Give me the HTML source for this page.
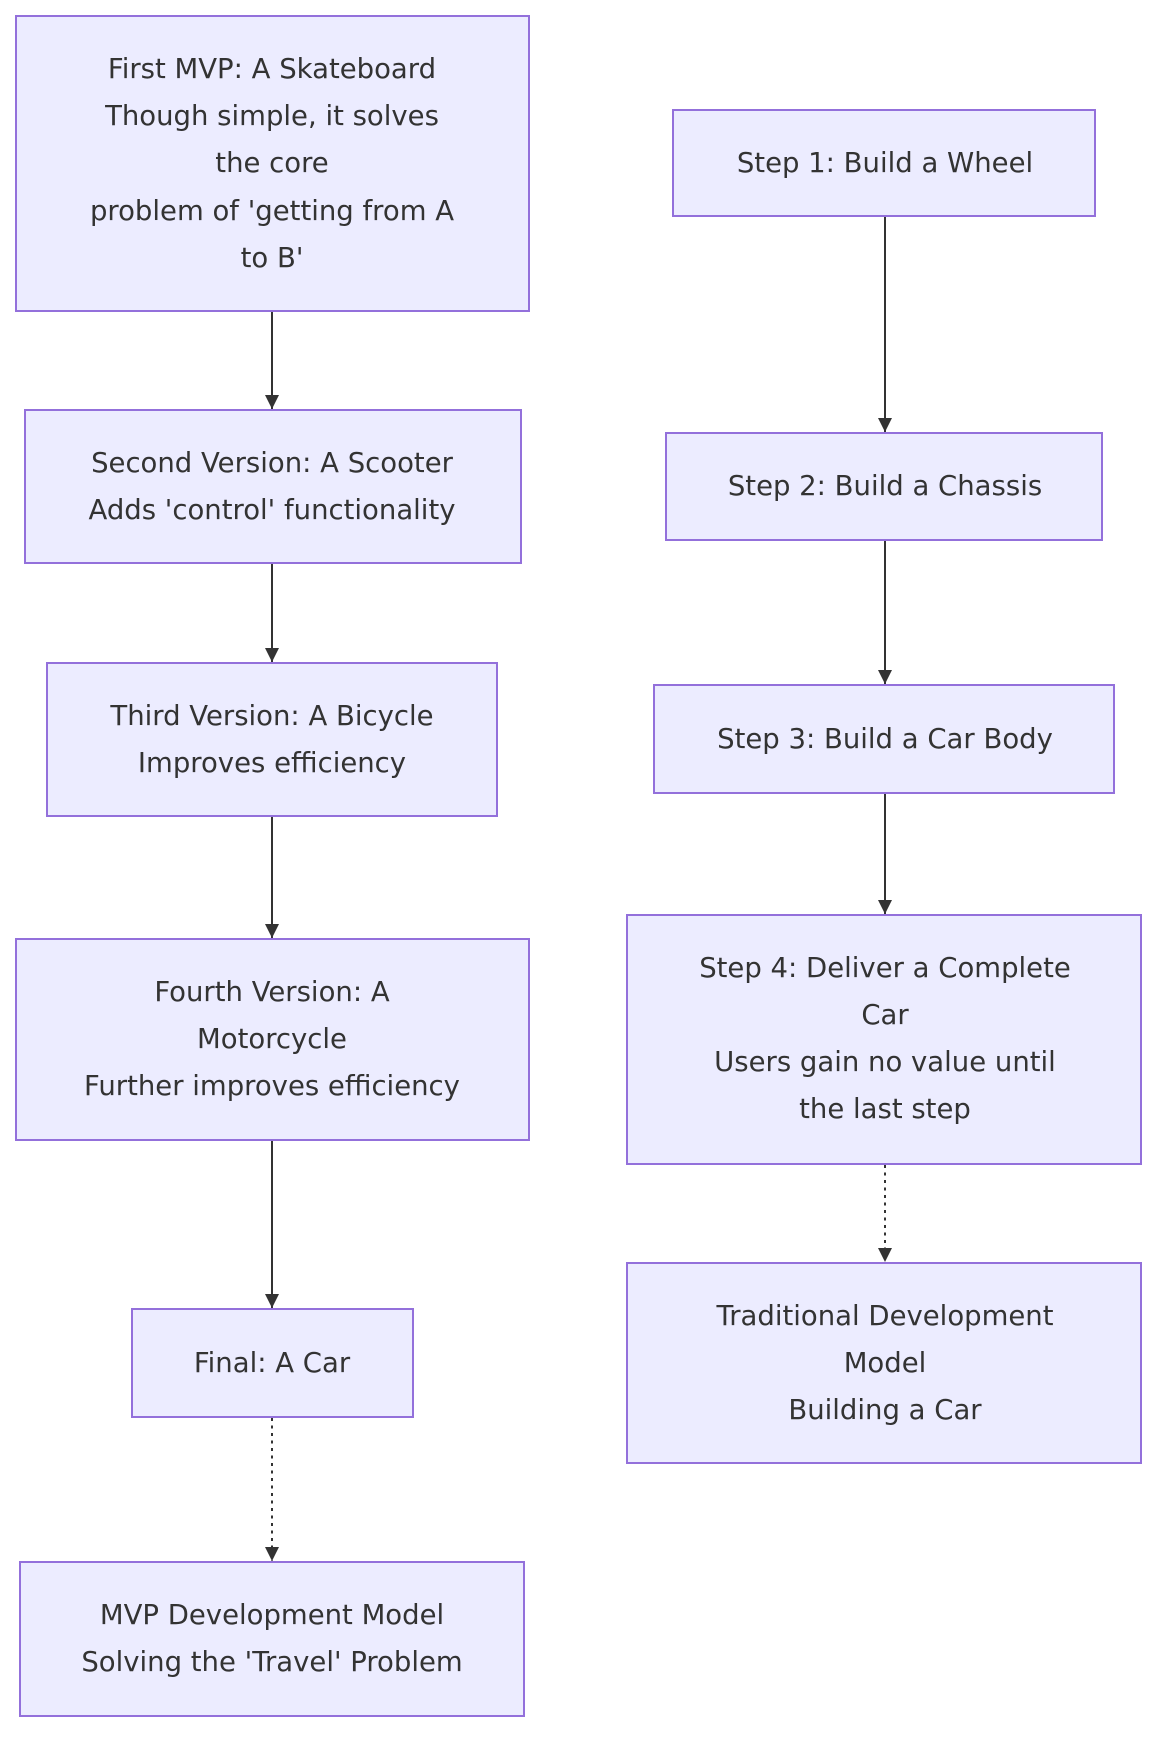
<!DOCTYPE html>
<html><head><meta charset="utf-8"><style>
html,body{margin:0;padding:0;background:#fff;}
svg{display:block;}
text{font-family:"DejaVu Sans",sans-serif;font-size:27.5px;fill:#333;text-anchor:middle;dominant-baseline:central;}
rect{fill:#ECECFF;stroke:#9370DB;stroke-width:2;}
line{stroke:#333;stroke-width:2;}
.d{stroke-dasharray:3,4.5;}
</style></head><body>
<svg width="1172" height="1756" viewBox="0 0 1172 1756">
<defs><marker id="a" viewBox="0 0 12 12" refX="12" refY="6" markerWidth="14" markerHeight="14" markerUnits="userSpaceOnUse" orient="auto"><path d="M0,0 L12,6 L0,12 z" fill="#333"/></marker></defs>
<rect x="16" y="16" width="513" height="295"/>
<text x="272" y="69">First MVP: A Skateboard</text>
<text x="272" y="116">Though simple, it solves</text>
<text x="272" y="163">the core</text>
<text x="272" y="211">problem of 'getting from A</text>
<text x="272" y="258">to B'</text>
<line x1="272" y1="312" x2="272" y2="409" marker-end="url(#a)"/>
<rect x="25" y="410" width="496" height="153"/>
<text x="272" y="463">Second Version: A Scooter</text>
<text x="272" y="510">Adds 'control' functionality</text>
<line x1="272" y1="564" x2="272" y2="662" marker-end="url(#a)"/>
<rect x="47" y="663" width="450" height="153"/>
<text x="272" y="716">Third Version: A Bicycle</text>
<text x="272" y="763">Improves efficiency</text>
<line x1="272" y1="817" x2="272" y2="938" marker-end="url(#a)"/>
<rect x="16" y="939" width="513" height="201"/>
<text x="272" y="992">Fourth Version: A</text>
<text x="272" y="1039">Motorcycle</text>
<text x="272" y="1086">Further improves efficiency</text>
<line x1="272" y1="1141" x2="272" y2="1308" marker-end="url(#a)"/>
<rect x="132" y="1309" width="281" height="108"/>
<text x="272" y="1363">Final: A Car</text>
<line class="d" x1="272" y1="1418" x2="272" y2="1561" marker-end="url(#a)"/>
<rect x="20" y="1562" width="504" height="154"/>
<text x="272" y="1615">MVP Development Model</text>
<text x="272" y="1662">Solving the 'Travel' Problem</text>
<rect x="673" y="110" width="422" height="106"/>
<text x="885" y="163">Step 1: Build a Wheel</text>
<line x1="885" y1="217" x2="885" y2="432" marker-end="url(#a)"/>
<rect x="666" y="433" width="436" height="107"/>
<text x="885" y="486">Step 2: Build a Chassis</text>
<line x1="885" y1="541" x2="885" y2="684" marker-end="url(#a)"/>
<rect x="654" y="685" width="460" height="108"/>
<text x="885" y="739">Step 3: Build a Car Body</text>
<line x1="885" y1="794" x2="885" y2="914" marker-end="url(#a)"/>
<rect x="627" y="915" width="514" height="249"/>
<text x="885" y="968">Step 4: Deliver a Complete</text>
<text x="885" y="1015">Car</text>
<text x="885" y="1062">Users gain no value until</text>
<text x="885" y="1109">the last step</text>
<line class="d" x1="885" y1="1165" x2="885" y2="1262" marker-end="url(#a)"/>
<rect x="627" y="1263" width="514" height="200"/>
<text x="885" y="1316">Traditional Development</text>
<text x="885" y="1363">Model</text>
<text x="885" y="1410">Building a Car</text>
</svg>
</body></html>
